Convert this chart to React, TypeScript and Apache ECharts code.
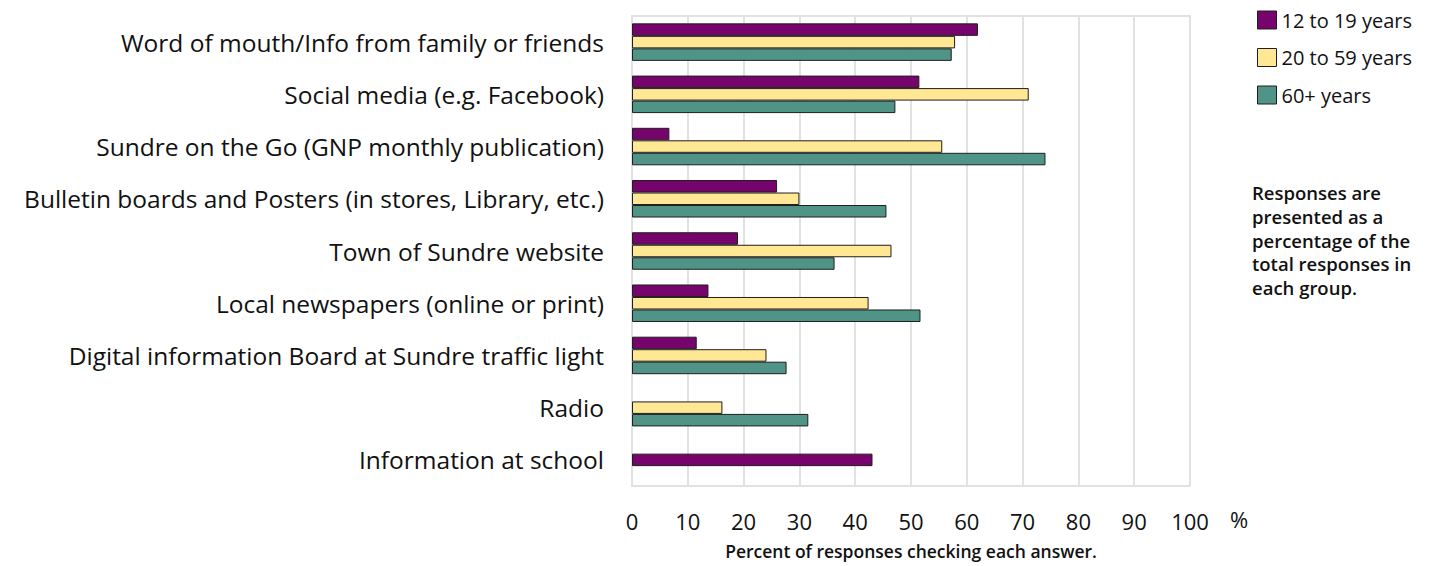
import React, { useEffect, useRef } from "react";
import * as echarts from "echarts";

const categories = [
  "Word of mouth/Info from family or friends",
  "Social media (e.g. Facebook)",
  "Sundre on the Go (GNP monthly publication)",
  "Bulletin boards and Posters (in stores, Library, etc.)",
  "Town of Sundre website",
  "Local newspapers (online or print)",
  "Digital information Board at Sundre traffic light",
  "Radio",
  "Information at school",
];

const seriesNames = ["12 to 19 years", "20 to 59 years", "60+ years"];
const youth: (number | null)[] = [62.0, 51.5, 6.7, 26.0, 19.0, 13.7, 11.6, null, 43.1];
const adults: (number | null)[] = [57.9, 71.1, 55.6, 30.0, 46.5, 42.4, 24.1, 16.2, null];
const seniors: (number | null)[] = [57.3, 47.2, 74.1, 45.6, 36.3, 51.7, 27.7, 31.6, null];

const colors = ["#77046d", "#ffe793", "#509488"];
const noteText =
  "Responses are\npresented as a\npercentage of the\ntotal responses in\neach group.";
const xName = "Percent of responses checking each answer.";

const FONT = "'Open Sans', sans-serif";

export default function App() {
  const ref = useRef<HTMLDivElement>(null);
  useEffect(() => {
    if (!ref.current) return;
    const chart = echarts.init(ref.current, null, { renderer: "svg" });
    const groups = [youth, adults, seniors];
    // rows where only one group has a value are drawn centred in the band
    const single = categories.map(
      (_, i) => groups.filter((g) => g[i] != null).length === 1
    );
    const border = { borderColor: "#1e1e1e", borderWidth: 1 };
    const mk = (idx: number, data: (number | null)[], extra: any = {}) => ({
      type: "bar",
      name: seriesNames[idx],
      data: data.map((v) => (v == null ? "-" : v)),
      barWidth: 12.5,
      barGap: "0%",
      itemStyle: { color: colors[idx], ...border },
      ...extra,
    });
    const centred = categories.map((_, i) => {
      if (!single[i]) return null;
      for (const g of groups) if (g[i] != null) return g[i];
      return null;
    });
    const centredColor = categories.map((_, i) => {
      for (let k = 0; k < groups.length; k++) if (groups[k][i] != null) return colors[k];
      return colors[0];
    });
    chart.setOption({
      animation: false,
      grid: {
        left: 632,
        right: 244,
        top: 16,
        bottom: 80,
        show: true,
        borderColor: "#e2e2e2",
        borderWidth: 2,
        outerBoundsMode: "none",
        containLabel: false,
      },
      legend: {
        data: seriesNames,
        orient: "vertical",
        left: 1252,
        top: 5,
        itemWidth: 19,
        itemHeight: 18,
        itemGap: 17.5,
        itemStyle: { borderColor: "#1e1e1e", borderWidth: 1 },
        icon: "rect",
        textStyle: { fontFamily: FONT, fontSize: 20, color: "#111" },
      },
      xAxis: {
        type: "value",
        min: 0,
        max: 100,
        interval: 10,
        axisLine: { show: false },
        axisTick: { show: false },
        splitLine: { show: true, lineStyle: { color: "#e2e2e2", width: 2 } },
        axisLabel: { fontFamily: FONT, fontSize: 22, color: "#111", margin: 24 },
        name: xName,
        nameLocation: "middle",
        nameGap: 56,
        nameTextStyle: { fontFamily: FONT, fontSize: 17.5, fontWeight: 600, color: "#111" },
      },
      yAxis: {
        type: "category",
        data: categories,
        inverse: true,
        axisLine: { show: false },
        axisTick: { show: false },
        axisLabel: { fontFamily: FONT, fontSize: 24.5, color: "#111", margin: 28 },
      },
      series: [
        mk(0, youth.map((v, i) => (single[i] ? null : v))),
        mk(1, adults.map((v, i) => (single[i] ? null : v)), { stack: "mid" }),
        mk(2, seniors.map((v, i) => (single[i] ? null : v))),
        {
          type: "bar",
          name: "centred",
          stack: "mid",
          barWidth: 12.5,
          barGap: "0%",
          data: centred.map((v, i) =>
            v == null ? "-" : { value: v, itemStyle: { color: centredColor[i] } }
          ),
          itemStyle: { color: colors[0], ...border },
        },
      ],
      graphic: [
        {
          type: "text",
          left: 1252,
          top: 181,
          style: {
            text: noteText,
            fontFamily: FONT,
            fontSize: 18.5,
            fontWeight: 600,
            lineHeight: 23.6,
            fill: "#111",
          },
        },
        {
          type: "text",
          left: 1230,
          top: 508,
          style: { text: "%", fontFamily: FONT, fontSize: 22, fill: "#111" },
        },
      ],
    });
    return () => chart.dispose();
  }, []);
  return <div ref={ref} style={{ width: 1434, height: 566, marginLeft: -8, marginTop: -8 }} />;
}
